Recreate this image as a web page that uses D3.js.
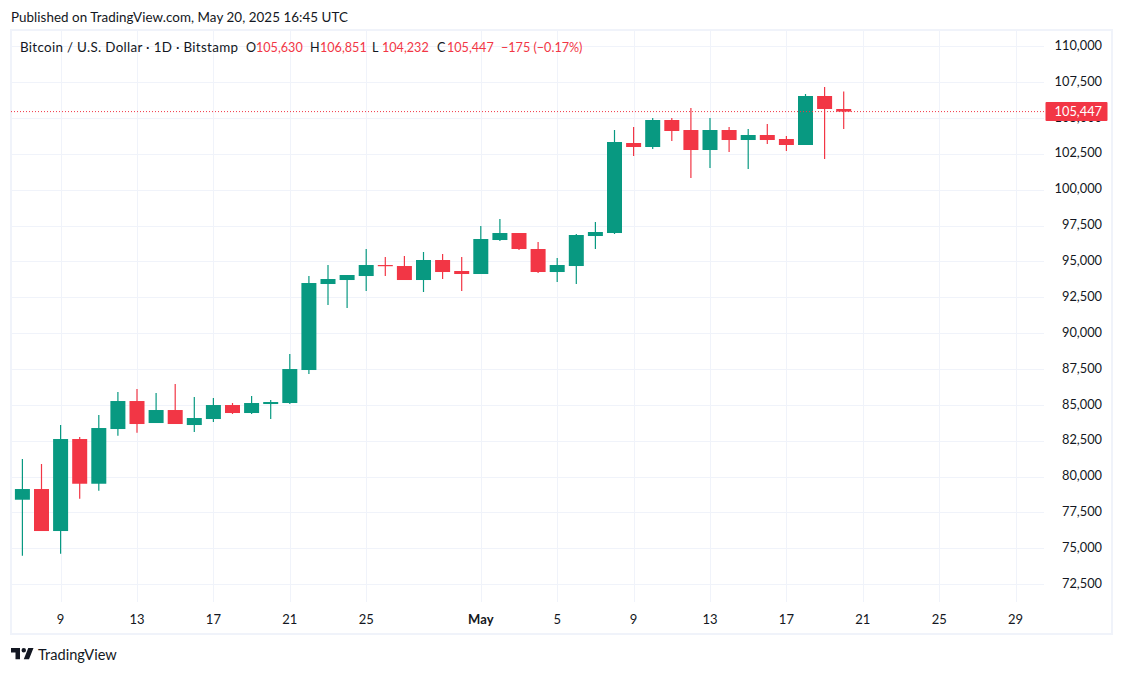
<!DOCTYPE html>
<html>
<head>
<meta charset="utf-8">
<script src="https://cdn.jsdelivr.net/npm/d3@7"></script>
<style>
  html, body { margin: 0; background: #fff; }
  text { font-family: "Lato", "Open Sans", sans-serif; }
</style>
</head>
<body>
<div id="chart"></div>
<script>
// Daily BTC/USD candles, 7 Apr to 20 May 2025
const days = ["2025-04-07","2025-04-08","2025-04-09","2025-04-10","2025-04-11","2025-04-12","2025-04-13","2025-04-14","2025-04-15","2025-04-16","2025-04-17","2025-04-18","2025-04-19","2025-04-20","2025-04-21","2025-04-22","2025-04-23","2025-04-24","2025-04-25","2025-04-26","2025-04-27","2025-04-28","2025-04-29","2025-04-30","2025-05-01","2025-05-02","2025-05-03","2025-05-04","2025-05-05","2025-05-06","2025-05-07","2025-05-08","2025-05-09","2025-05-10","2025-05-11","2025-05-12","2025-05-13","2025-05-14","2025-05-15","2025-05-16","2025-05-17","2025-05-18","2025-05-19","2025-05-20"];
const opens = [78390,79135,76207,82621,79504,83318,85270,83736,84643,83597,84015,84991,84434,85061,85131,87432,93428,93706,93985,94752,94682,93706,95101,94334,94125,96495,96983,95868,94264,94682,96774,96983,103258,102979,104862,104164,102770,104164,103467,103816,103537,103119,106535,105630];
const highs = [81227,80878,83597,82760,84294,85898,86107,85828,86456,85549,85479,85131,85619,85340,88547,93985,94752,94055,95868,95310,95380,95659,95519,95310,97471,97959,96983,96356,95240,96914,97750,104164,104374,105001,105001,105698,105001,104374,104234,104583,103746,106674,107162,106851];
const lows = [74484,76207,74624,78458,79017,82851,83060,83736,83667,83109,83806,84364,84364,84015,85061,87153,91963,91754,92939,93985,93706,92870,93776,92939,94125,96425,95798,94194,93567,93428,95868,96914,102352,102840,103397,100818,101515,102631,101445,103188,102700,103119,102143,104232];
const closes = [79135,76207,82621,79504,83388,85270,83667,84643,83667,84085,84991,84434,85131,85201,87501,93497,93776,94055,94752,94682,93706,95101,94264,94125,96565,96983,95868,94264,94752,96844,97053,103328,102979,104862,104095,102770,104164,103467,103816,103467,103119,106535,105630,105447];
const priceTicks = [72500,75000,77500,80000,82500,85000,87500,90000,92500,95000,97500,100000,102500,105000,107500,110000];
const dateTicks = ["2025-04-09","2025-04-13","2025-04-17","2025-04-21","2025-04-25","2025-05-01","2025-05-05","2025-05-09","2025-05-13","2025-05-17","2025-05-21","2025-05-25","2025-05-29"];
const lastPrice = 105447;

const green = "#089981";
const red = "#F23645";
const gridColor = "#f0f3fa";
const textColor = "#131722";

const width = 1123, height = 674;
const pane = { left: 11, right: 1044, top: 30, bottom: 602 };

const svg = d3.select("#chart")
  .append("svg")
  .attr("width", width)
  .attr("height", height)
  .style("display", "block");

const x = d3.scaleUtc()
  .domain([new Date("2025-04-07"), new Date("2025-05-29")])
  .range([22.4, 1015.6]);

const y = d3.scaleLinear()
  .domain([72500, 110000])
  .range([584.2, 46.3]);

// Outer frame
svg.append("rect")
  .attr("x", 11)
  .attr("y", 30)
  .attr("width", 1101)
  .attr("height", 604)
  .attr("fill", "none")
  .attr("stroke", gridColor)
  .attr("stroke-width", 2);

// Grid
svg.append("g")
  .selectAll("line")
  .data(priceTicks)
  .enter()
  .append("line")
  .attr("x1", pane.left)
  .attr("x2", pane.right)
  .attr("y1", d => Math.round(y(d)) + 0.5)
  .attr("y2", d => Math.round(y(d)) + 0.5)
  .attr("stroke", gridColor);

svg.append("g")
  .selectAll("line")
  .data(dateTicks)
  .enter()
  .append("line")
  .attr("x1", d => Math.round(x(new Date(d))) + 0.5)
  .attr("x2", d => Math.round(x(new Date(d))) + 0.5)
  .attr("y1", pane.top)
  .attr("y2", pane.bottom)
  .attr("stroke", gridColor);

// Price axis
const yAxis = svg.append("g")
  .attr("transform", `translate(1102,-1)`)
  .call(d3.axisLeft(y).tickValues(priceTicks).tickFormat(d3.format(",")).tickSize(0));
yAxis.select(".domain").remove();
yAxis.selectAll("text")
  .attr("x", 0)
  .attr("font-size", 12.8)
  .style("font-family", "Lato, sans-serif")
  .attr("fill", textColor);

// Time axis
const xAxis = svg.append("g")
  .attr("transform", `translate(-0.5,608)`)
  .call(d3.axisBottom(x)
    .tickValues(dateTicks.map(d => new Date(d)))
    .tickFormat(d => d.getUTCDate() === 1 ? "May" : d.getUTCDate())
    .tickSize(0));
xAxis.select(".domain").remove();
xAxis.selectAll("text")
  .attr("y", 7)
  .attr("font-size", 13)
  .style("font-family", "Lato, sans-serif")
  .attr("font-weight", d => d.getUTCDate() === 1 ? "bold" : "normal")
  .attr("fill", textColor);

// Candles
const candles = days.map((d, i) => ({
  date: new Date(d), open: opens[i], high: highs[i], low: lows[i], close: closes[i]
}));
const candleColor = d => d.close >= d.open ? green : red;
const bodyWidth = 15;

const candle = svg.append("g")
  .selectAll("g")
  .data(candles)
  .enter()
  .append("g");

candle.append("line")
  .attr("x1", d => x(d.date))
  .attr("x2", d => x(d.date))
  .attr("y1", d => y(d.high))
  .attr("y2", d => y(d.low))
  .attr("stroke", candleColor)
  .attr("stroke-width", 1.2);

candle.append("rect")
  .attr("x", d => x(d.date) - bodyWidth / 2)
  .attr("y", d => y(Math.max(d.open, d.close)))
  .attr("width", bodyWidth)
  .attr("height", d => Math.max(1.2, Math.abs(y(d.open) - y(d.close))))
  .attr("fill", candleColor);

// Last price line and label
svg.append("line")
  .attr("x1", pane.left)
  .attr("x2", pane.right + 2)
  .attr("y1", y(lastPrice))
  .attr("y2", y(lastPrice))
  .attr("stroke", red)
  .attr("stroke-dasharray", "1 2");

svg.append("rect")
  .attr("x", 1045.5)
  .attr("y", y(lastPrice) - 9.5)
  .attr("width", 62)
  .attr("height", 19)
  .attr("rx", 1)
  .attr("fill", red);

svg.append("text")
  .attr("x", 1102)
  .attr("y", y(lastPrice) + 4.5)
  .attr("text-anchor", "end")
  .attr("font-size", 12.8)
  .attr("fill", "#fff")
  .text(d3.format(",")(lastPrice));

// Header
svg.append("text")
  .attr("x", 11)
  .attr("y", 22)
  .attr("font-size", 13.4)
  .attr("textLength", 337)
  .attr("fill", textColor)
  .text("Published on TradingView.com, May 20, 2025 16:45 UTC");

const legend = [
  { x: 20, t: "Bitcoin / U.S. Dollar · 1D · Bitstamp", c: textColor, len: 218 },
  { x: 246, t: "O", c: textColor },
  { x: 256, t: "105,630", c: red },
  { x: 310, t: "H", c: textColor },
  { x: 320, t: "106,851", c: red },
  { x: 372, t: "L", c: textColor },
  { x: 382, t: "104,232", c: red },
  { x: 437, t: "C", c: textColor },
  { x: 447, t: "105,447", c: red },
  { x: 501, t: "−175 (−0.17%)", c: red }
];
const legendText = svg.append("g")
  .selectAll("text")
  .data(legend)
  .enter()
  .append("text")
  .attr("x", d => d.x)
  .attr("y", 52)
  .attr("font-size", 12.6)
  .attr("fill", d => d.c)
  .text(d => d.t);
legendText.filter(d => d.len)
  .attr("font-size", 13.4)
  .attr("textLength", d => d.len);

// Footer logo
svg.append("path")
  .attr("transform", "translate(9.5,643.5) scale(0.75)")
  .attr("d", "M14 6H2v6h6v9h6V6Zm12 15h-7l6-15h7l-6 15Zm-7-9a3 3 0 1 0 0-6 3 3 0 0 0 0 6Z")
  .attr("fill", textColor);

svg.append("text")
  .attr("x", 38)
  .attr("y", 660)
  .attr("font-size", 14.6)
  .attr("fill", textColor)
  .text("TradingView");
</script>
</body>
</html>
